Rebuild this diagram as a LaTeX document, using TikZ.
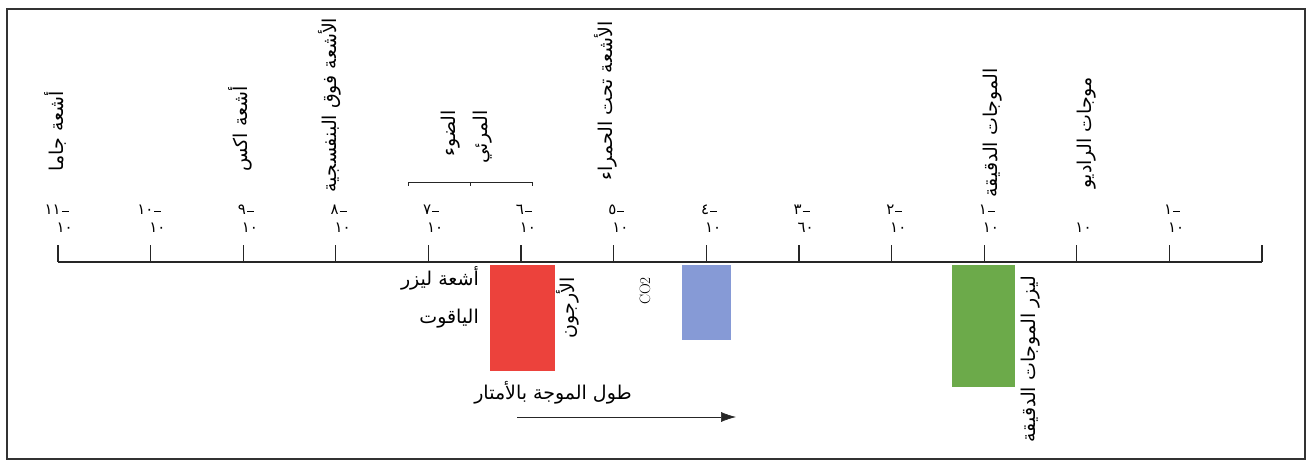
\documentclass[tikz,border=0pt]{standalone}
\usepackage{fontspec}
\usetikzlibrary{arrows.meta,calc}
\newfontfamily\arabicfont[Script=Arabic]{DejaVu Sans}
\TeXXeTstate=1
\definecolor{rubyred}{RGB}{236,66,60}
\definecolor{coblue}{RGB}{134,154,214}
\definecolor{masergreen}{RGB}{108,170,74}
\newcommand{\ar}[1]{\beginR #1\endR}
\newcommand{\negexp}[1]{#1\kern1pt\rule[3pt]{7pt}{1.1pt}}

\begin{document}
\begin{tikzpicture}[
    x=1pt, y=-1pt,
    band/.style={font=\arabicfont\fontsize{19}{32}\selectfont, rotate=90, inner sep=0pt, align=right},
    txt/.style={font=\arabicfont\fontsize{19}{38}\selectfont, inner sep=0pt, align=right},
    num/.style={font=\arabicfont\fontsize{15}{16}\selectfont, inner sep=0pt},
    laser/.style={draw=none, inner sep=0pt, anchor=north west},
    axis/.style={draw=black!85, line width=1.3pt},
    frame/.style={draw=black!80, line width=1.6pt}
]
\useasboundingbox (0,0) rectangle (1312,462);
\draw[frame] (7,9) rectangle (1305,459);

% scale of wavelengths
\foreach \k in {0,...,13}
    \coordinate (t\k) at ({58+92.615*\k},262);
\draw[axis] (t0) -- (t13);
\foreach \k in {0,...,13}
    \draw[axis] (t\k) -- ++(0,-17);

\foreach \k/\e/\b in {0/١١/١٠, 1/١٠/١٠, 2/٩/١٠, 3/٨/١٠, 4/٧/١٠, 5/٦/١٠,
                      6/٥/١٠, 7/٤/١٠, 8/٣/٦٠, 9/٢/١٠, 10/١/١٠, 12/١/١٠} {
    \node[num, anchor=east] (e\k) at ($(t\k)+(11,-52)$) {\negexp{\e}};
    \node[num, anchor=east] (b\k) at ($(t\k)+(15,-34)$) {\b};
}
\node[num, anchor=east] (b11) at ($(t11)+(15,-34)$) {١٠};

% regions of the spectrum
\node[band] (gamma) at (55,131) {\ar{أشعة جاما}};
\node[band] (xray) at (240,129) {\ar{أشعة اكس}};
\node[band] (uv) at (330,105) {\ar{الأشعة فوق البنفسجية}};
\node[band] (vis) at (467,137) {\ar{الضوء}\\\ar{المرئي}};
\node[band] (ir) at (606,101) {\ar{الأشعة تحت الحمراء}};
\node[band] (micro) at (993,133) {\ar{الموجات الدقيقة}};
\node[band] (radio) at (1087,133) {\ar{موجات الراديو}};

\coordinate (visl) at (408,182);
\coordinate (visr) at (532,182);
\coordinate (visc) at (470,182);
\draw[black!85, semithick] ($(visl)+(0,4)$) -- (visl) -- (visr) -- ($(visr)+(0,4)$);
\draw[black!85, semithick] (visc) -- ++(0,4);

% lasers
\node[laser, fill=rubyred, minimum width=65pt, minimum height=106pt] (ruby) at (490,265) {};
\node[laser, fill=coblue, minimum width=49pt, minimum height=75pt] (co2) at (682,265) {};
\node[laser, fill=masergreen, minimum width=63pt, minimum height=122pt] (maser) at (952,265) {};

\node[txt, anchor=north east] (rubylbl) at (479,266) {\ar{أشعة ليزر}\\\ar{الياقوت}};
\node[band, anchor=east] (argon) at (568,277) {\ar{الأرجون}};
\node[rotate=90, anchor=east, inner sep=0pt, font=\fontsize{15}{17}\selectfont] (co2lbl) at (645,277) {CO2};
\node[band, anchor=east] (maserlbl) at (1031,276) {\ar{ليزر الموجات الدقيقة}};

% direction of increasing wavelength
\node[txt] (wl) at (553,393) {\ar{طول الموجة بالأمتار}};
\coordinate (arrs) at (517,417);
\coordinate (arre) at (736,417);
\draw[black!85, semithick, -{Latex[length=15pt,width=10pt]}] (arrs) -- (arre);

\end{tikzpicture}
\end{document}
